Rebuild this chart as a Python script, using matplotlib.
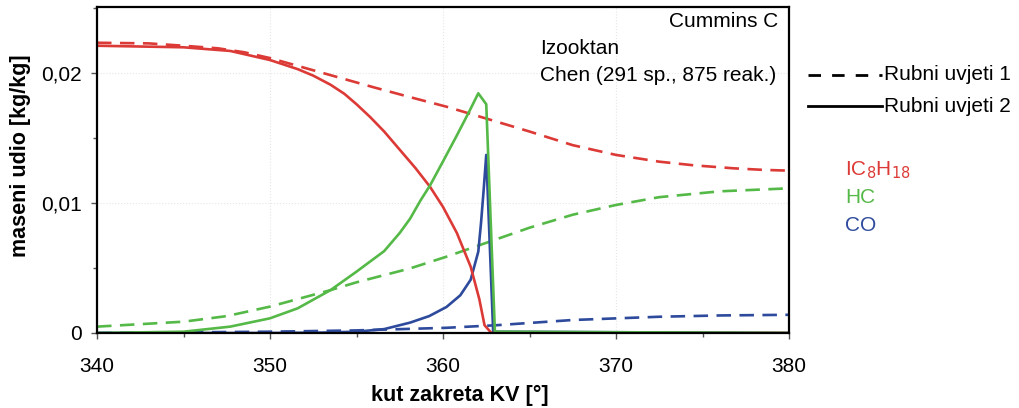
import matplotlib
matplotlib.use("Agg")
import matplotlib.pyplot as plt
from matplotlib.lines import Line2D
from matplotlib.ticker import FuncFormatter, MultipleLocator

plt.rcParams['font.family'] = ['Liberation Sans', 'DejaVu Sans']

# IC8H18, boundary conditions 1 (dashed)
ic8_x1 = [340, 343, 345, 347, 348.5, 350, 352, 354, 356, 358, 360.2, 363.1, 365, 367.5, 370, 372.5, 374.5, 376.8, 378.5, 380]
ic8_y1 = [0.02233, 0.02228, 0.0221, 0.0219, 0.0216, 0.02115, 0.0204, 0.01965, 0.0189, 0.01818, 0.01741, 0.01626, 0.0155, 0.01445, 0.0137, 0.01318, 0.0129, 0.01267, 0.01255, 0.01249]
# IC8H18, boundary conditions 2 (solid)
ic8_x2 = [340, 345, 347.7, 350, 351.6, 352.5, 353.5, 354.3, 355, 355.8, 356.6, 357.5, 358.4, 359.25, 360.0, 360.8, 361.6, 362.1, 362.4, 362.8, 380]
ic8_y2 = [0.0221, 0.02198, 0.0217, 0.0210, 0.0203, 0.0198, 0.0191, 0.0184, 0.0176, 0.0166, 0.0155, 0.0141, 0.0127, 0.01125, 0.0097, 0.0077, 0.0051, 0.0026, 0.0006, 0.0, 0.0]
# HC dashed
hc_x1 = [340, 345, 347.5, 350, 353.5, 355, 358.1, 360.2, 362.7, 365, 367.5, 370, 372.5, 376, 380]
hc_y1 = [0.00049, 0.00087, 0.0013, 0.00203, 0.0033, 0.0039, 0.00497, 0.00587, 0.00703, 0.0081, 0.0091, 0.00985, 0.01045, 0.0109, 0.01113]
# HC solid
hc_x2 = [340, 345, 347.7, 350, 351.6, 353.5, 355, 356.6, 357.5, 358.1, 358.7, 359.25, 360.0, 360.8, 361.5, 362.04, 362.5, 363.0, 380]
hc_y2 = [0.0, 0.0001, 0.00049, 0.00113, 0.0019, 0.0033, 0.00472, 0.0063, 0.0077, 0.0088, 0.0102, 0.01135, 0.0132, 0.0152, 0.0170, 0.01844, 0.0176, 0.0001, 0.0]
# CO dashed
co_x1 = [340, 345, 350, 355, 360.2, 363.1, 367.5, 372.5, 376, 380]
co_y1 = [0.0, 0.00005, 0.0001, 0.0002, 0.0004, 0.0006, 0.001, 0.00125, 0.00135, 0.0014]
# CO solid
co_x2 = [340, 350, 353, 355, 356.6, 358.1, 359.2, 360.2, 361.0, 361.6, 362.04, 362.2, 362.35, 362.5, 362.9, 380]
co_y2 = [0.0, 0.0, 0.00003, 0.0001, 0.0003, 0.0008, 0.0013, 0.0020, 0.0029, 0.0041, 0.00626, 0.0085, 0.011, 0.0137, 0.0001, 0.0]

RED = '#dc3a36'
GREEN = '#55b947'
BLUE = '#2d4a9c'

fig = plt.figure(figsize=(10.19, 4.08), dpi=100)
ax = fig.add_axes([97/1019, 75/408, (789-97)/1019, (333-7)/408])

lw = 1.9
dash = (0, (5.5, 3.2))
ax.plot(ic8_x1, ic8_y1, color=RED, lw=lw, ls=dash)
ax.plot(hc_x1, hc_y1, color=GREEN, lw=lw, ls=dash)
ax.plot(co_x1, co_y1, color=BLUE, lw=lw, ls=dash)
ax.plot(co_x2, co_y2, color=BLUE, lw=lw)
ax.plot(ic8_x2, ic8_y2, color=RED, lw=lw)
ax.plot(hc_x2, hc_y2, color=GREEN, lw=lw)

ax.set_xlim(340, 380)
ax.set_ylim(0, 0.02508)
ax.xaxis.set_major_locator(MultipleLocator(10))
ax.xaxis.set_minor_locator(MultipleLocator(5))
ax.yaxis.set_major_locator(MultipleLocator(0.01))
ax.yaxis.set_minor_locator(MultipleLocator(0.005))
ax.yaxis.set_major_formatter(FuncFormatter(lambda v, p: '0' if abs(v) < 1e-12 else f'{v:.2f}'.replace('.', ',')))
ax.grid(True, which='major', color='#e6e6e6', ls=':', lw=0.8)
ax.set_axisbelow(True)
for s in ax.spines.values():
    s.set_linewidth(1.6)
ax.tick_params(which='both', direction='out', labelsize=15, width=1, color='#555555')
ax.tick_params(which='major', length=4)
ax.tick_params(which='minor', length=3)
ax.tick_params(axis='x', which='major', pad=13)
ax.tick_params(axis='y', which='major', pad=7)

fig.text(460/1019, 1-395/408, 'kut zakreta KV [°]', ha='center', va='center', fontsize=15.5, fontweight='bold')
fig.text(21/1019, 1-156/408, 'maseni udio [kg/kg]', ha='center', va='center', rotation=90, fontsize=15.5, fontweight='bold')

ax.text(0.984, 0.954, 'Cummins C', transform=ax.transAxes, ha='right', va='center', fontsize=15)
ax.text(0.640, 0.874, 'Izooktan', transform=ax.transAxes, ha='left', va='center', fontsize=15)
ax.text(0.640, 0.791, 'Chen (291 sp., 875 reak.)', transform=ax.transAxes, ha='left', va='center', fontsize=15)

# Legend outside on right
fig.add_artist(Line2D([808/1019, 882/1019], [1-75/408, 1-75/408], color='black', lw=2, ls=(0, (4.5, 4))))
fig.add_artist(Line2D([808/1019, 882/1019], [1-106/408, 1-106/408], color='black', lw=2))
fig.text(884/1019, 1-75/408, 'Rubni uvjeti 1', ha='left', va='center', fontsize=15)
fig.text(884/1019, 1-106/408, 'Rubni uvjeti 2', ha='left', va='center', fontsize=15)
fig.text(845/1019, 1-170/408, r'IC$_8$H$_{18}$', ha='left', va='center', fontsize=15, color=RED)
fig.text(845/1019, 1-197/408, 'HC', ha='left', va='center', fontsize=15, color=GREEN)
fig.text(845/1019, 1-225/408, 'CO', ha='left', va='center', fontsize=15, color=BLUE)

fig.savefig('out.png', dpi=100)
